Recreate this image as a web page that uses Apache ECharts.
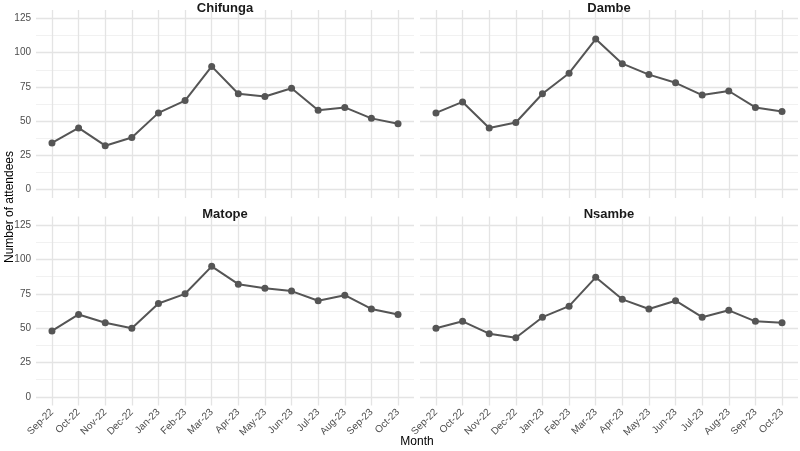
<!DOCTYPE html>
<html>
<head>
<meta charset="utf-8">
<script src="https://cdn.jsdelivr.net/npm/echarts@6/dist/echarts.min.js"></script>
<style>
html,body{margin:0;padding:0;background:#fff;}
#c{width:800px;height:451px;}
</style>
</head>
<body>
<div id="c"></div>
<script>
const months = ['Sep-22','Oct-22','Nov-22','Dec-22','Jan-23','Feb-23','Mar-23','Apr-23','May-23','Jun-23','Jul-23','Aug-23','Sep-23','Oct-23'];
const panelNames = ['Chifunga','Dambe','Matope','Nsambe'];
const chifunga = [34,45,32,38,56,65,90,70,68,74,58,60,52,48];
const dambe    = [56,64,45,49,70,85,110,92,84,78,69,72,60,57];
const matope   = [48,60,54,50,68,75,95,82,79,77,70,74,64,60];
const nsambe   = [50,55,46,43,58,66,87,71,64,70,58,63,55,54];
const yMajorTicks = [0,25,50,75,100,125];
const yMinorTicks = [12.5,37.5,62.5,87.5,112.5];

const panelData = [chifunga, dambe, matope, nsambe];
const FONT = '"Liberation Sans", Arial, sans-serif';
const LINE = '#555555';

const grids = [
  {left:36,  top:10,    width:378, height:188},
  {left:420, top:10,    width:378, height:188},
  {left:36,  top:216.5, width:378, height:189},
  {left:420, top:216.5, width:378, height:189}
];

const xAxes = [], yAxes = [], series = [], graphics = [];
const xIdx = months.map((m,i)=>i);

grids.forEach((g,p)=>{
  const bottomRow = p >= 2;
  const leftCol = p % 2 === 0;
  xAxes.push({
    type:'value', gridIndex:p, min:-0.6, max:13.6,
    axisLine:{show:false},
    axisTick:{show:false, customValues:xIdx},
    axisLabel:{show:bottomRow, customValues:xIdx, rotate:45, margin:5,
      formatter:v=>months[Math.round(v)], color:'#4d4d4d', fontSize:10, fontFamily:FONT},
    splitLine:{show:true, lineStyle:{color:'#e4e4e4', width:1.3}}
  });
  yAxes.push({
    type:'value', gridIndex:p, min:-6.25, max:131.25,
    axisLine:{show:false},
    axisTick:{show:false, customValues:yMajorTicks},
    axisLabel:{show:leftCol, customValues:yMajorTicks, margin:5, color:'#4d4d4d', fontSize:10, fontFamily:FONT},
    splitLine:{show:true, lineStyle:{color:'#e4e4e4', width:1.3}}
  });
  yAxes.push({
    type:'value', gridIndex:p, min:-6.25, max:131.25,
    axisLine:{show:false},
    axisTick:{show:false, customValues:yMinorTicks},
    axisLabel:{show:false, customValues:yMinorTicks},
    splitLine:{show:true, lineStyle:{color:'#eeeeee', width:0.8}}
  });
  series.push({
    type:'line', xAxisIndex:p, yAxisIndex:p*2,
    data: panelData[p].map((v,i)=>[i,v]),
    symbol:'circle', symbolSize:7,
    lineStyle:{color:LINE, width:2},
    itemStyle:{color:LINE},
    silent:true, animation:false
  });
  graphics.push({
    type:'text', x:g.left + g.width/2, y: bottomRow ? 214 : 8,
    style:{text:panelNames[p], font:'bold 13px ' + FONT, fill:'#1a1a1a', textAlign:'center', textVerticalAlign:'middle'}
  });
});

graphics.push({
  type:'text', x:417, y:442,
  style:{text:'Month', font:'12px ' + FONT, fill:'#000', textAlign:'center', textVerticalAlign:'middle'}
});
graphics.push({
  type:'text', x:10, y:207, rotation:Math.PI/2,
  style:{text:'Number of attendees', font:'12px ' + FONT, fill:'#000', textAlign:'center', textVerticalAlign:'middle'}
});

const chart = echarts.init(document.getElementById('c'), null, {renderer:'canvas'});
chart.setOption({
  backgroundColor:'#fff',
  animation:false,
  grid: grids,
  xAxis: xAxes,
  yAxis: yAxes,
  series: series,
  graphic: graphics
});
</script>
</body>
</html>
